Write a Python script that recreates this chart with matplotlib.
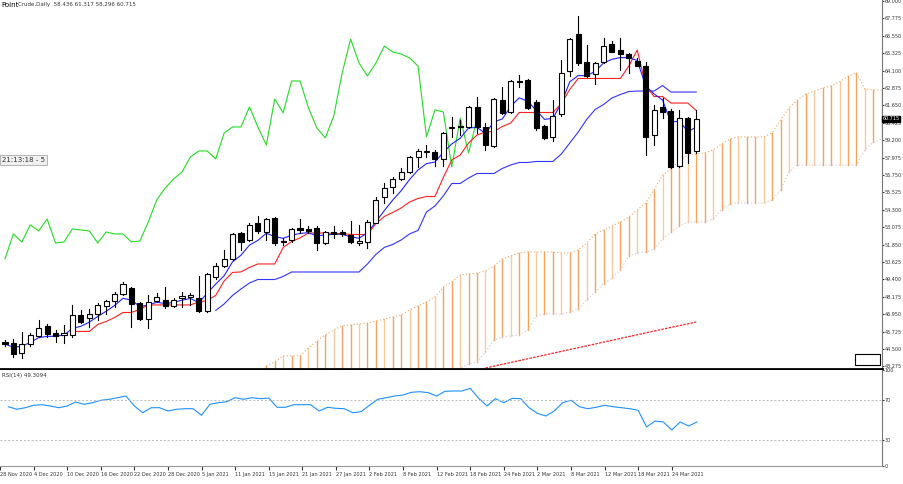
import numpy as np
import pandas as pd
import matplotlib
matplotlib.use("Agg")
import matplotlib.pyplot as plt
from matplotlib.patches import Rectangle

opens = [44.99,44.92,44.22,44.85,45.42,46.12,45.63,45.49,45.49,46.89,46.68,46.96,47.53,47.88,48.37,48.79,47.74,46.61,47.88,47.95,
         47.53,48.09,48.16,48.09,47.18,49.57,50.34,50.84,52.67,52.17,53.37,52.74,53.72,52.10,52.17,53.02,52.95,53.02,51.96,52.74,
         52.74,52.53,51.96,52.03,53.37,55.20,55.90,56.47,56.96,58.02,58.37,58.37,57.88,60.06,60.20,60.13,61.54,60.13,58.79,62.03,
         61.19,63.30,63.44,61.89,60.20,59.43,61.05,64.07,66.68,64.70,63.86,64.70,65.97,65.55,65.27,64.78,64.42,59.57,61.54,61.26,
         57.38,60.76,58.44]
highs = [45.13,45.20,45.70,45.63,46.54,46.26,45.84,46.19,47.60,47.25,47.32,47.74,47.95,48.51,49.22,48.86,47.81,48.30,48.44,48.86,
         48.09,48.51,48.44,49.64,49.85,50.56,51.47,52.67,52.74,53.37,53.86,53.72,53.79,52.31,53.02,53.65,53.16,53.16,52.81,53.16,
         52.88,53.51,53.23,53.58,55.20,56.19,56.61,57.24,58.09,58.58,58.86,58.51,59.78,60.83,60.62,61.61,62.24,60.41,62.17,62.95,
         63.44,63.79,63.51,62.03,60.27,62.03,64.85,66.39,67.94,65.90,64.70,66.39,66.18,66.39,65.34,64.99,64.70,61.68,62.17,61.40,
         61.33,60.83,61.32]
lows = [44.71,43.94,43.87,44.71,45.35,45.35,44.99,44.92,45.35,46.33,46.05,46.54,46.96,47.46,48.30,46.05,46.54,45.98,47.81,47.39,
        47.46,47.46,47.60,47.11,47.11,49.43,50.27,50.77,51.47,52.10,52.67,52.17,51.82,51.82,52.03,52.67,52.67,51.47,51.89,52.31,
        52.45,51.96,51.82,51.61,53.37,54.78,55.48,56.40,56.89,57.31,58.02,57.38,57.38,59.43,59.57,60.06,59.71,58.51,58.72,61.05,
        61.12,62.95,61.40,59.92,59.29,59.15,60.90,63.72,64.49,63.65,63.16,64.63,65.41,64.14,63.93,64.42,58.16,58.86,60.76,57.24,
        57.31,57.59,58.30]
closes = [44.85,44.15,44.85,45.49,45.98,45.56,45.42,45.63,46.89,46.40,46.96,47.60,47.88,48.37,49.08,47.67,46.61,47.81,48.16,47.53,
          47.95,48.23,48.30,47.18,49.78,50.34,50.84,52.60,52.03,53.23,52.81,53.65,51.96,52.03,52.95,52.88,52.81,51.96,52.74,52.60,
          52.60,52.03,52.10,53.44,54.99,55.83,56.47,56.96,58.02,58.44,58.44,57.88,59.71,60.13,60.13,61.54,60.13,58.86,62.10,61.12,
          63.37,63.37,61.47,60.06,59.36,60.90,63.93,66.32,64.63,63.72,64.63,65.83,65.41,65.27,64.99,64.42,59.43,61.33,61.19,57.31,
          60.76,58.30,60.715]

span_a_start = 31
span_a = [43.30,43.59,44.01,44.01,44.01,44.57,45.06,45.49,45.84,46.12,46.19,46.26,46.33,46.47,46.61,46.75,46.89,47.25,47.53,47.81,
          48.16,48.86,49.22,49.71,49.78,49.85,49.99,50.34,50.84,51.05,51.26,51.33,51.33,51.33,51.33,51.26,51.26,51.47,51.96,52.60,
          52.88,53.16,53.44,53.79,54.29,54.78,55.70,56.75,57.17,57.74,58.16,58.23,58.30,58.51,58.93,59.28,59.43,59.43,59.43,59.43,
          59.71,60.62,61.47,62.03,62.45,62.66,62.87,63.02,63.30,63.72,63.93,62.80,62.73,62.73]
span_b_start = 53
span_b = [43.00,43.16,43.44,43.59,44.29,45.13,45.35,45.42,45.49,45.84,46.82,46.96,46.96,46.96,47.11,47.32,47.95,48.51,49.08,49.50,
          50.06,51.05,51.26,51.33,51.54,52.24,52.74,53.16,53.44,53.44,53.44,53.65,54.29,54.71,54.78,54.78,54.78,54.78,54.99,55.69,
          56.96,57.45,57.45,57.45,57.45,57.45,57.45,57.45,57.45,58.51,59.07,59.28]
ma_start = 57
ma_long = [43.16,43.29,43.42,43.55,43.68,43.81,43.94,44.07,44.20,44.33,44.46,44.59,44.72,44.85,44.98,45.11,45.24,45.37,45.50,45.63,
           45.76,45.89,46.02,46.14,46.27,46.40]
rsi = [63.3,60.7,62.3,64.7,65.3,64.0,62.3,64.0,68.0,65.7,67.3,69.7,70.7,72.3,74.0,64.0,57.3,62.3,62.3,59.0,
       60.7,61.3,61.3,54.7,65.7,67.3,68.3,72.3,70.7,72.3,71.3,72.0,62.7,62.7,65.3,65.3,65.3,59.0,62.7,61.7,
       61.3,57.3,58.3,64.7,70.7,72.3,74.0,75.0,77.7,78.3,77.3,74.0,78.7,79.0,79.0,81.7,71.7,64.0,71.3,67.3,
       71.7,71.3,62.3,56.7,54.0,59.0,67.3,69.7,63.3,61.3,62.7,64.7,63.3,62.3,61.3,59.7,43.0,49.0,48.0,40.0,
       48.0,44.0,48.0]
date_labels = ["28 Nov 2020","4 Dec 2020","10 Dec 2020","16 Dec 2020","22 Dec 2020","28 Dec 2020","5 Jan 2021",
               "11 Jan 2021","15 Jan 2021","21 Jan 2021","27 Jan 2021","2 Feb 2021","8 Feb 2021","12 Feb 2021",
               "18 Feb 2021","24 Feb 2021","2 Mar 2021","8 Mar 2021","12 Mar 2021","18 Mar 2021","24 Mar 2021"]

n = len(closes)
idx = np.arange(n)
df = pd.DataFrame({"o": opens, "h": highs, "l": lows, "c": closes})
tenkan = (df.h.rolling(9).max() + df.l.rolling(9).min()) / 2
kijun = (df.h.rolling(26).max() + df.l.rolling(26).min()) / 2
fast = df.c.ewm(span=5, adjust=False).mean()
chikou = df.c.shift(-26)

R = 882
fig = plt.figure(figsize=(9.04, 4.84), dpi=100)
ax = fig.add_axes([0, 1 - 369/484, R/904, 369/484])
ax2 = fig.add_axes([0, 1 - 466/484, R/904, 96/484])
xl = (-0.59, -0.59 + R/8.43)
for a in (ax, ax2):
    a.set_xlim(*xl)
    a.yaxis.tick_right()
    for s in ("top", "left"):
        a.spines[s].set_visible(False)
    a.spines["right"].set_color("#777777")
    a.tick_params(axis="y", labelsize=3.5, length=1.5, pad=0.5, colors="#333333")
ax.set_ylim(43.09, 69.07)
ax.spines["bottom"].set_linewidth(2)
ax.set_yticks([43.275 + 1.225*k for k in range(22)])
ax.set_yticklabels([f"{43.275 + 1.225*k:.3f}" for k in range(22)])
ax.set_xticks([])

a_x = np.arange(span_a_start, span_a_start + len(span_a))
b_x = np.arange(span_b_start, span_b_start + len(span_b))
bmap = dict(zip(b_x, span_b))
for xi, av in zip(a_x, span_a):
    bv = bmap.get(xi, 42.0)
    lo, hi = min(av, bv), max(av, bv)
    col = "#f4a460" if xi % 3 else "#f9c9a0"
    ax.plot([xi, xi], [lo, hi], color=col, lw=1.0, zorder=1)
ax.plot(a_x, span_a, color="#f4a460", lw=0.8, ls=(0, (1, 2)), zorder=2)
ax.plot(b_x, span_b, color="#d8bfd8", lw=0.8, ls=(0, (1, 2)), zorder=2)

ax.plot(np.arange(ma_start, ma_start + len(ma_long)), ma_long, color="#ff2020", lw=0.9, ls=(0, (2, 1)))
ax.plot(idx, chikou, color="#22dd22", lw=0.8)
ax.plot(idx, kijun, color="#3333ff", lw=0.8)
ax.plot(idx, tenkan, color="#ff2020", lw=0.8)
ax.plot(idx, fast, color="#2222ff", lw=0.8)

w = 0.6
for i in range(n):
    o, h, l, c = opens[i], highs[i], lows[i], closes[i]
    ax.plot([i, i], [l, h], color="black", lw=0.8, zorder=3)
    bot, top = min(o, c), max(o, c)
    fc = "white" if c >= o else "black"
    ax.add_patch(Rectangle((i - w/2, bot), w, max(top - bot, 0.04), facecolor=fc,
                           edgecolor="black", lw=0.8, zorder=4))

ax.text(1.001, (60.715 - 43.09) / (69.07 - 43.09), "60.715", transform=ax.transAxes, fontsize=3.5,
        color="white", va="center", ha="left", bbox=dict(boxstyle="square,pad=0.1", fc="black", ec="black"))
ax.text(0.002, 0.995, "Point", transform=ax.transAxes, fontsize=5, va="top", ha="left")
ax.text(0.02, 0.995, "Crude,Daily  58.436 61.317 58.296 60.715", transform=ax.transAxes, fontsize=4,
        va="top", ha="left", color="#333333")
ax.text(0.002, 1 - 160/369, "21:13:18 - 5", transform=ax.transAxes,
        fontsize=5, va="center", ha="left", color="#333333",
        bbox=dict(boxstyle="square,pad=0.25", fc="#f0f0f0", ec="#999999", lw=0.5))
ax.add_patch(Rectangle(((855)/R, 1 - 365/369), 25/R, 11/369, transform=ax.transAxes,
                       fill=False, ec="black", lw=0.8))

ax2.set_ylim(4, 100)
ax2.plot(idx, rsi, color="#1e90ff", lw=0.8)
for lv in (70, 30):
    ax2.axhline(lv, color="#bbbbbb", lw=0.7, ls=(0, (2, 2)))
ax2.set_yticks([4, 30, 70, 100])
ax2.set_yticklabels(["0", "30", "70", "100"])
ax2.spines["bottom"].set_color("#999999")
ax2.text(0.002, 0.97, "RSI(14) 49.3094", transform=ax2.transAxes, fontsize=4, va="top", color="#333333")
ticks = [-1 + 4*k for k in range(len(date_labels))]
ax2.set_xticks(ticks)
ax2.set_xticklabels(date_labels, fontsize=3.6, ha="left")
ax2.tick_params(axis="x", length=3, pad=1, colors="#333333")

fig.savefig("out.png", dpi=100)
